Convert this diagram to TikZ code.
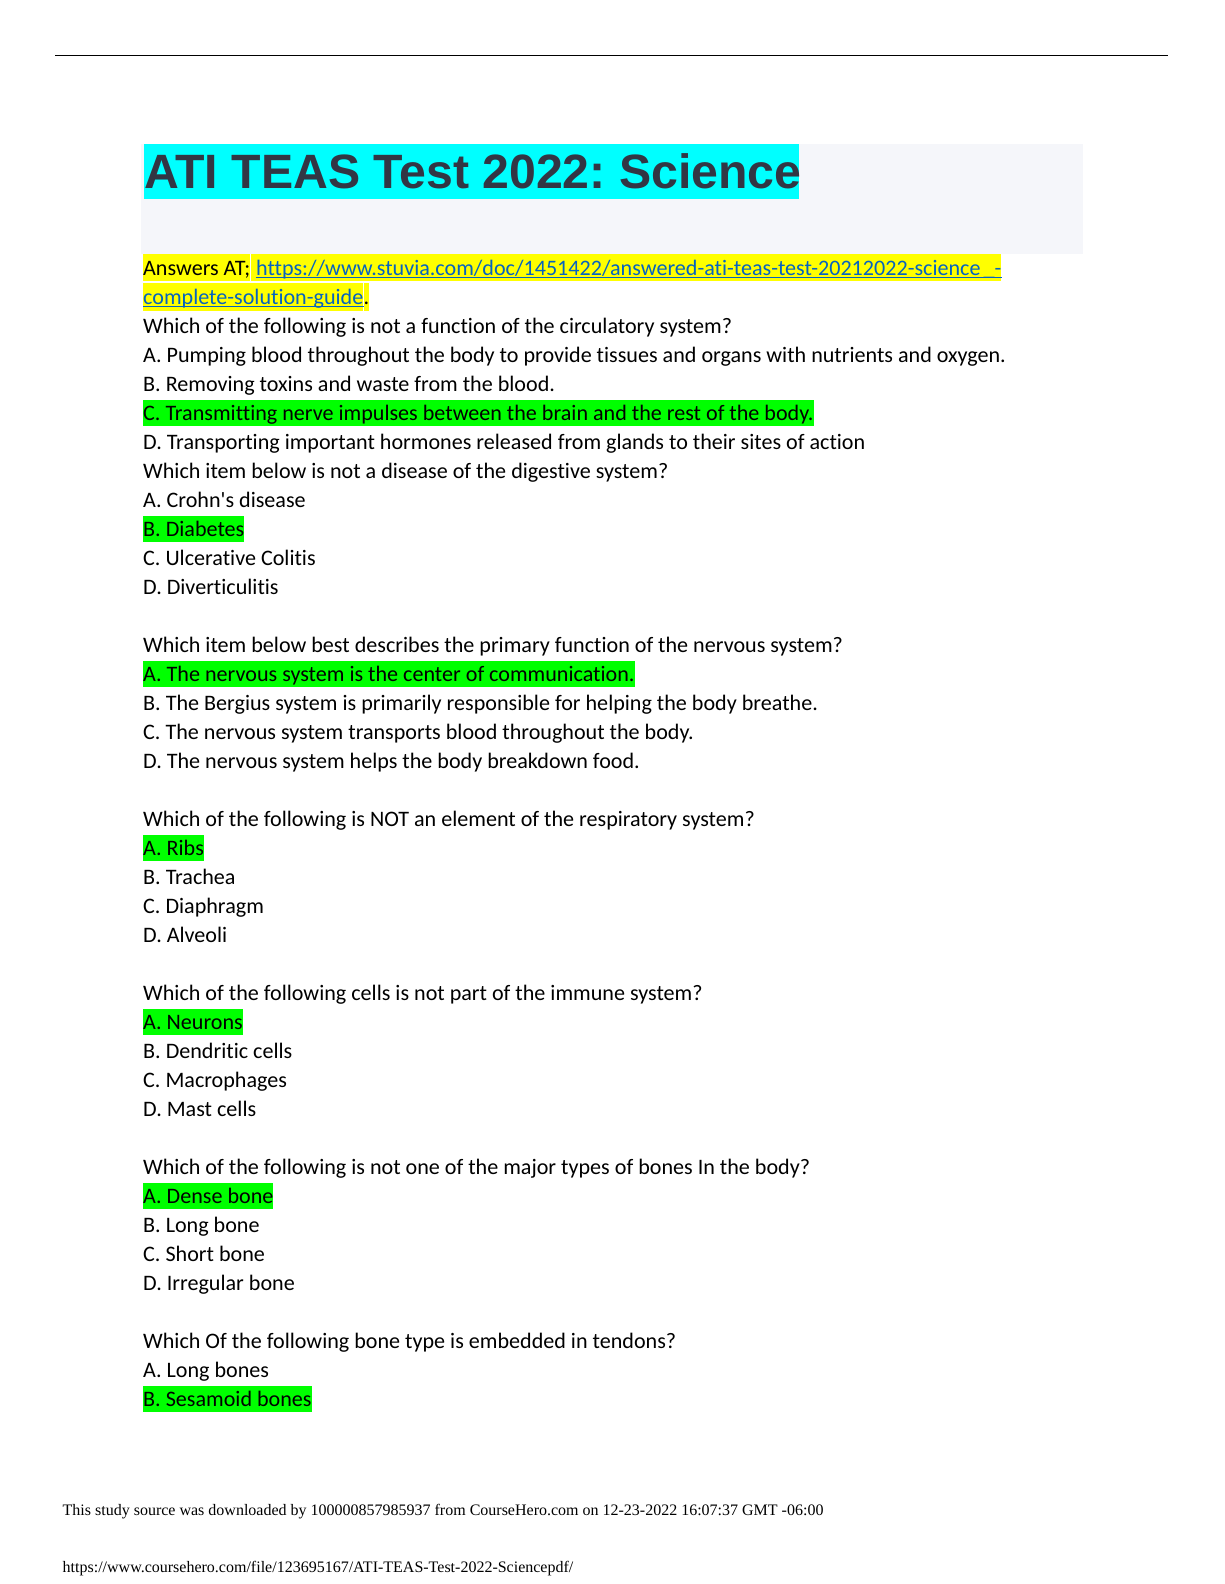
\documentclass[tikz,border=0pt]{standalone}
\usepackage{fontspec}
\setmainfont{Carlito}[Ligatures={CommonOff,TeXOff}]
\newfontfamily\titlefont{Liberation Sans}
\newfontfamily\footfont{Liberation Serif}
\definecolor{hlgreen}{RGB}{0,255,0}
\definecolor{hlyellow}{RGB}{255,255,0}
\definecolor{hlcyan}{RGB}{0,255,255}
\definecolor{greybox}{RGB}{245,246,250}
\definecolor{titlecol}{RGB}{50,54,68}
\definecolor{linkblue}{RGB}{5,99,193}
\newcommand\qline[3][]{\node[txt,#1] (l#2) at (143,{275+29.0*#2}) {#3};}
\begin{document}
\begin{tikzpicture}[x=1pt,y=-1pt,
  txt/.style={anchor=base west,inner sep=0pt,font=\fontsize{22.1}{26}\selectfont,text height=20.5pt,text depth=6.3pt},
  hl/.style={fill=hlgreen},
  yl/.style={fill=hlyellow},
  uline/.style={linkblue,line width=1.3pt},
  foot/.style={anchor=base west,inner sep=0pt,font=\footfont\fontsize{16}{18}\selectfont}]
\useasboundingbox[fill=white] (0,0) rectangle (1224,1584);
% top rule
\coordinate (rl) at (55,55.7);
\coordinate (rr) at (1168,55.7);
\draw[line width=1.5pt] (rl) -- (rr);
% title block
\fill[greybox] (141,143.7) rectangle (1083,254);
\fill[hlcyan] (144,143.5) rectangle (799,199);
\node[anchor=base west,inner sep=0pt,text=titlecol,
  font=\titlefont\bfseries\fontsize{48.2}{54}\selectfont] (title) at (144,188.5) {\frenchspacing ATI TEAS Test 2022: Science};
% link lines
\node[txt,yl,text height=21pt,text depth=5.7pt] (ans) at (143,275) {Answers AT;};
\node[txt,yl,text=linkblue,text height=21pt,text depth=5.7pt] (link) at (ans.base east) {\hspace{5.5pt}https://www.stuvia.com/doc/1451422/answered-ati-teas-test-20212022-science\hspace{3pt}\_-};
\draw[uline] ([xshift=5.5pt,yshift=-2.7pt]link.base west) -- ([yshift=-2.7pt]link.base east);
\node[txt,yl,text=linkblue,text height=21pt,text depth=6.7pt] (link2) at (143,304) {complete-solution-guide};
\draw[uline] ([yshift=-2.7pt]link2.base west) -- ([yshift=-2.7pt]link2.base east);
\node[txt,yl,text height=21pt,text depth=6.7pt] (dot) at (link2.base east) {.};
% questions
\qline{2}{Which of the following is not a function of the circulatory system?}
\qline{3}{A. Pumping blood throughout the body to provide tissues and organs with nutrients and oxygen.}
\qline{4}{B. Removing toxins and waste from the blood.}
\qline[hl]{5}{C. Transmitting nerve impulses between the brain and the rest of the body.}
\qline{6}{D. Transporting important hormones released from glands to their sites of action}
\qline{7}{Which item below is not a disease of the digestive system?}
\qline{8}{A. Crohn's disease}
\qline[hl]{9}{B. Diabetes}
\qline{10}{C. Ulcerative Colitis}
\qline{11}{D. Diverticulitis}
\qline{13}{Which item below best describes the primary function of the nervous system?}
\qline[hl]{14}{A. The nervous system is the center of communication.}
\qline{15}{B. The Bergius system is primarily responsible for helping the body breathe.}
\qline{16}{C. The nervous system transports blood throughout the body.}
\qline{17}{D. The nervous system helps the body breakdown food.}
\qline{19}{Which of the following is NOT an element of the respiratory system?}
\qline[hl]{20}{A. Ribs}
\qline{21}{B. Trachea}
\qline{22}{C. Diaphragm}
\qline{23}{D. Alveoli}
\qline{25}{Which of the following cells is not part of the immune system?}
\qline[hl]{26}{A. Neurons}
\qline{27}{B. Dendritic cells}
\qline{28}{C. Macrophages}
\qline{29}{D. Mast cells}
\qline{31}{Which of the following is not one of the major types of bones In the body?}
\qline[hl]{32}{A. Dense bone}
\qline{33}{B. Long bone}
\qline{34}{C. Short bone}
\qline{35}{D. Irregular bone}
\qline{37}{Which Of the following bone type is embedded in tendons?}
\qline{38}{A. Long bones}
\qline[hl]{39}{B. Sesamoid bones}
% footer
\node[foot] (f1) at (62.5,1515.7) {This study source was downloaded by 100000857985937 from CourseHero.com on 12-23-2022 16:07:37 GMT -06:00};
\node[foot] (f2) at (62.5,1572.7) {https://www.coursehero.com/file/123695167/ATI-TEAS-Test-2022-Sciencepdf/};
\end{tikzpicture}
\end{document}
